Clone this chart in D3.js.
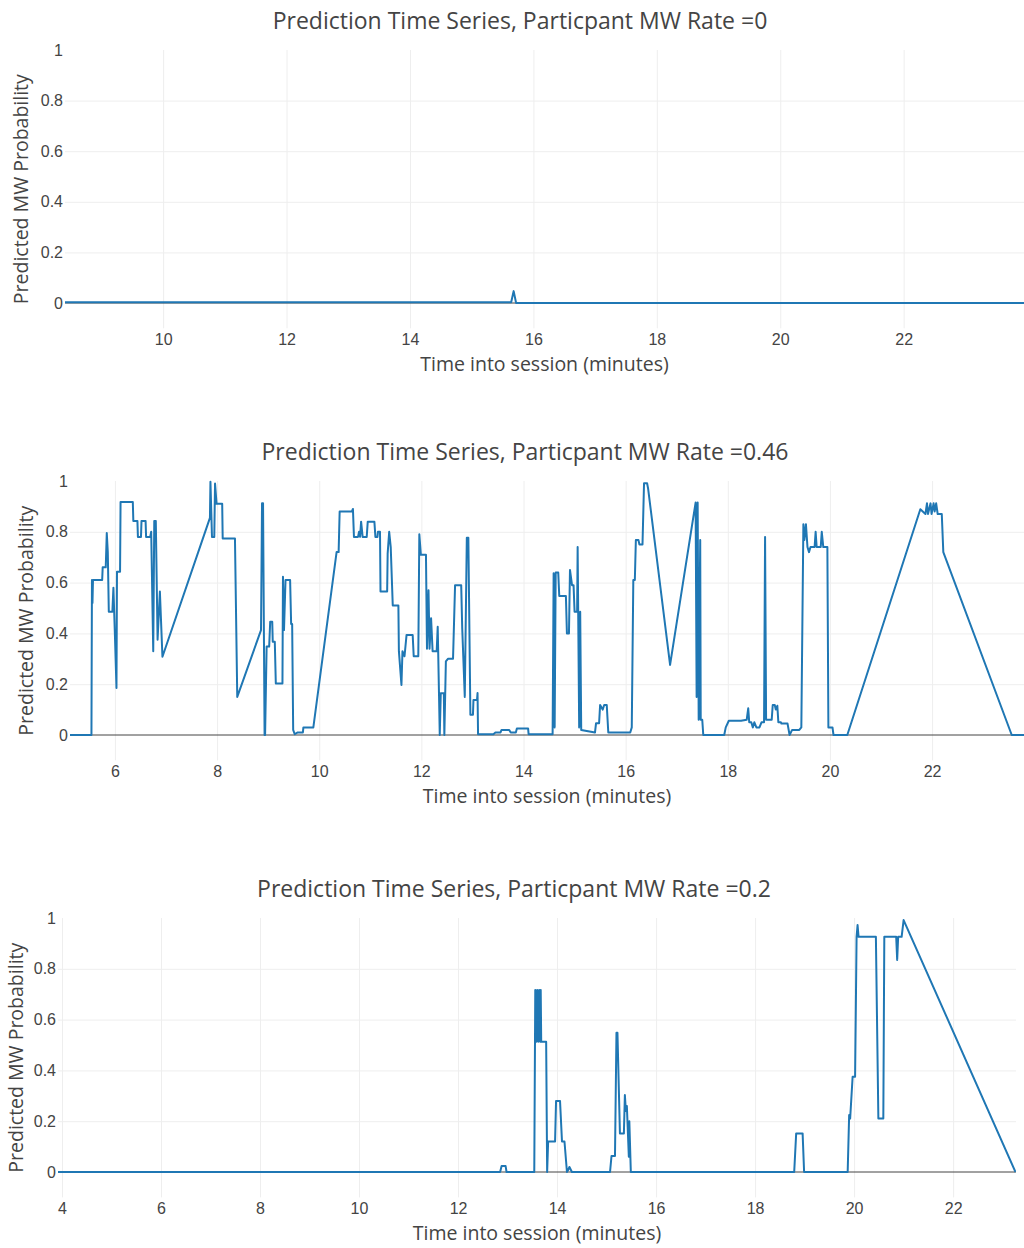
<!DOCTYPE html>
<html>
<head>
<meta charset="utf-8">
<script src="https://cdn.jsdelivr.net/npm/d3@7.9.0/dist/d3.min.js"></script>
<style>
  body { margin: 0; background: #fff; }
  svg { display: block; font-family: "Open Sans", sans-serif; }
  .tick text { fill: #444; font-size: 16px; }
  .grid line { stroke: #eee; }
  .grid .domain { display: none; }
</style>
</head>
<body>
<svg id="chart" width="1024" height="1248"></svg>
<script>
// participant MW rate = 0
const timeA = [8.41, 15.64, 15.68, 15.72, 23.95];
const probA = [0.003, 0.003, 0.047, 0, 0];

// participant MW rate = 0.46
const timeB = [5.12, 5.54, 5.55, 5.56, 5.57, 5.75, 5.76, 5.82, 5.84, 5.86, 5.88, 5.95, 5.97, 6.0, 6.03,
  6.04, 6.1, 6.11, 6.35, 6.36, 6.44, 6.45, 6.51, 6.52, 6.6, 6.61, 6.69, 6.71, 6.75, 6.77, 6.8, 6.835,
  6.88, 6.93, 7.86, 7.87, 7.9, 7.945, 7.96, 7.99, 8.1, 8.11, 8.35, 8.395, 8.86, 8.88, 8.9, 8.93, 8.94,
  8.97, 9.02, 9.04, 9.08, 9.09, 9.13, 9.15, 9.28, 9.29, 9.31, 9.34, 9.43, 9.45, 9.47, 9.49, 9.52, 9.58,
  9.68, 9.69, 9.885, 10.34, 10.38, 10.4, 10.64, 10.66, 10.68, 10.76, 10.78, 10.8, 10.82, 10.85, 10.93,
  10.95, 11.08, 11.1, 11.14, 11.15, 11.19, 11.2, 11.33, 11.34, 11.37, 11.4, 11.44, 11.55, 11.56, 11.61,
  11.63, 11.67, 11.71, 11.83, 11.85, 11.94, 11.96, 11.99, 12.09, 12.11, 12.14, 12.16, 12.19, 12.22,
  12.3, 12.32, 12.345, 12.36, 12.38, 12.44, 12.45, 12.48, 12.52, 12.62, 12.66, 12.78, 12.8, 12.85,
  12.89, 12.92, 12.96, 13.01, 13.02, 13.09, 13.1, 13.11, 13.41, 13.45, 13.55, 13.57, 13.72, 13.75,
  13.85, 13.87, 14.09, 14.1, 14.57, 14.59, 14.61, 14.63, 14.68, 14.7, 14.83, 14.85, 14.89, 14.91,
  14.95, 14.98, 15.0, 15.05, 15.06, 15.09, 15.11, 15.13, 15.4, 15.42, 15.48, 15.5, 15.55, 15.58,
  15.63, 15.66, 16.09, 16.12, 16.15, 16.18, 16.2, 16.25, 16.27, 16.33, 16.36, 16.42, 16.44, 16.87,
  17.37, 17.39, 17.41, 17.43, 17.46, 17.47, 17.5, 17.52, 17.93, 17.96, 18.02, 18.26, 18.37, 18.4,
  18.42, 18.46, 18.49, 18.52, 18.56, 18.62, 18.66, 18.71, 18.73, 18.75, 18.86, 18.88, 18.92, 18.94,
  18.97, 18.99, 19.04, 19.05, 19.17, 19.21, 19.26, 19.4, 19.44, 19.48, 19.5, 19.53, 19.56, 19.59,
  19.62, 19.7, 19.72, 19.74, 19.82, 19.84, 19.87, 19.95, 19.97, 20.05, 20.07, 20.34, 21.77, 21.87,
  21.9, 21.92, 21.97, 21.99, 22.03, 22.05, 22.08, 22.11, 22.19, 22.22, 23.56, 23.8];
const probB = [0, 0, 0.61, 0.52, 0.61, 0.61, 0.66, 0.66, 0.795, 0.72, 0.485, 0.485, 0.58, 0.39, 0.185,
  0.643, 0.643, 0.917, 0.917, 0.843, 0.843, 0.78, 0.78, 0.843, 0.843, 0.78, 0.78, 0.8, 0.33, 0.843, 0.843, 0.375,
  0.565, 0.308, 0.855, 0.997, 0.78, 0.78, 0.99, 0.91, 0.91, 0.774, 0.774, 0.15, 0.413, 0.912, 0.912, 0, 0,
  0.348, 0.348, 0.446, 0.446, 0.367, 0.367, 0.203, 0.203, 0.623, 0.413, 0.61, 0.61, 0.437, 0.437, 0.02, 0.003, 0.01,
  0.01, 0.03, 0.03, 0.72, 0.72, 0.88, 0.88, 0.89, 0.78, 0.78, 0.8, 0.78, 0.84, 0.78, 0.78,
  0.84, 0.84, 0.78, 0.78, 0.8, 0.8, 0.565, 0.565, 0.715, 0.8, 0.74, 0.51, 0.51, 0.33, 0.197,
  0.33, 0.31, 0.394, 0.394, 0.31, 0.31, 0.79, 0.71, 0.71, 0.34, 0.57, 0.34, 0.46, 0.33,
  0.33, 0.426, 0.164, 0, 0.164, 0.164, 0, 0.29, 0.3, 0.3, 0.59, 0.59, 0.42, 0.15,
  0.777, 0.777, 0.08, 0.08, 0.138, 0.138, 0.165, 0.003, 0.003, 0.01, 0.01, 0.02, 0.02, 0.01,
  0.01, 0.026, 0.026, 0.003, 0.003, 0.637, 0.03, 0.64, 0.64, 0.547, 0.547, 0.4, 0.4, 0.65,
  0.59, 0.59, 0.485, 0.485, 0.74, 0.03, 0.485, 0.02, 0.01, 0.046, 0.046, 0.118, 0.1, 0.118,
  0.118, 0.01, 0.01, 0.03, 0.61, 0.61, 0.768, 0.768, 0.75, 0.75, 0.991, 0.991, 0.97, 0.276,
  0.915, 0.15, 0.915, 0.06, 0.768, 0.06, 0.06, 0, 0, 0.03, 0.056, 0.056, 0.06, 0.105,
  0.05, 0.05, 0.03, 0.05, 0.03, 0.03, 0.05, 0.05, 0.78, 0.06, 0.06, 0.118, 0.118, 0.1,
  0.115, 0.05, 0.05, 0.045, 0.045, 0, 0.02, 0.02, 0.03, 0.83, 0.768, 0.83, 0.74, 0.72,
  0.74, 0.74, 0.8, 0.74, 0.74, 0.8, 0.74, 0.74, 0.03, 0.03, 0, 0, 0.889, 0.87,
  0.912, 0.87, 0.912, 0.87, 0.912, 0.88, 0.912, 0.87, 0.87, 0.72, 0, 0];

// participant MW rate = 0.2
const timeC = [3.92, 12.85, 12.88, 12.96, 12.98, 13.54, 13.56, 13.58, 13.6, 13.62, 13.64, 13.66, 13.67,
  13.68, 13.78, 13.8, 13.82, 13.96, 13.98, 14.06, 14.1, 14.15, 14.2, 14.23, 14.25, 14.3, 15.07, 15.1,
  15.17, 15.2, 15.22, 15.27, 15.35, 15.37, 15.39, 15.41, 15.45, 15.46, 15.49, 18.79, 18.83, 18.96,
  18.99, 19.87, 19.9, 19.92, 19.97, 20.02, 20.05, 20.07, 20.09, 20.44, 20.49, 20.59, 20.61, 20.85,
  20.87, 20.89, 20.96, 21.0, 23.26];
const probC = [0, 0, 0.024, 0.024, 0, 0, 0.717, 0.513, 0.717, 0.513, 0.717, 0.513, 0.717,
  0.513, 0.513, 0, 0.12, 0.12, 0.28, 0.28, 0.12, 0.12, 0, 0.01, 0.02, 0, 0, 0.063,
  0.063, 0.548, 0.548, 0.152, 0.152, 0.303, 0.24, 0.26, 0.06, 0.2, 0, 0, 0.152, 0.152,
  0, 0, 0.224, 0.21, 0.375, 0.375, 0.926, 0.972, 0.926, 0.926, 0.211, 0.211, 0.926, 0.926,
  0.835, 0.926, 0.926, 0.992, 0];

const yTicks = [0, 0.2, 0.4, 0.6, 0.8, 1];
const xTicksA = [10, 12, 14, 16, 18, 20, 22];
const xTicksB = [6, 8, 10, 12, 14, 16, 18, 20, 22];
const xTicksC = [4, 6, 8, 10, 12, 14, 16, 18, 20, 22];

const panels = [
  { title: "Prediction Time Series, Particpant MW Rate =0", t: timeA, p: probA, xTicks: xTicksA,
    xDomain: [8.41, 23.95], left: 65, right: 1024, top: 50, unit: 253, titleX: 520, yTitleX: 20 },
  { title: "Prediction Time Series, Particpant MW Rate =0.46", t: timeB, p: probB, xTicks: xTicksB,
    xDomain: [5.12, 23.8], left: 70, right: 1024, top: 481, unit: 254, titleX: 525, yTitleX: 25 },
  { title: "Prediction Time Series, Particpant MW Rate =0.2", t: timeC, p: probC, xTicks: xTicksC,
    xDomain: [3.92, 23.27], left: 58, right: 1016, top: 918, unit: 254, titleX: 514, yTitleX: 15 },
];

const svg = d3.select("#chart");

panels.forEach((cfg, i) => {
  const bottom = cfg.top + 1.1 * cfg.unit;
  const x = d3.scaleLinear().domain(cfg.xDomain).range([cfg.left, cfg.right]);
  const y = d3.scaleLinear().domain([-0.1, 1]).range([bottom, cfg.top]);
  const g = svg.append("g");

  // grid
  g.append("g")
    .attr("class", "grid")
    .attr("transform", `translate(0,${bottom})`)
    .call(d3.axisBottom(x).tickValues(cfg.xTicks).tickSize(-(bottom - cfg.top)).tickFormat(""));
  g.append("g")
    .attr("class", "grid")
    .attr("transform", `translate(${cfg.left},0)`)
    .call(d3.axisLeft(y).tickValues([0.2, 0.4, 0.6, 0.8]).tickSize(-(cfg.right - cfg.left)).tickFormat(""));

  // zero line
  g.append("line")
    .attr("x1", cfg.left).attr("x2", cfg.right)
    .attr("y1", y(0)).attr("y2", y(0))
    .attr("stroke", "#444").attr("stroke-width", 1);

  // tick labels
  const xAxis = g.append("g")
    .attr("transform", `translate(0,${bottom})`)
    .call(d3.axisBottom(x).tickValues(cfg.xTicks).tickSize(0).tickPadding(5).tickFormat(d3.format("d")));
  xAxis.select(".domain").remove();
  const yAxis = g.append("g")
    .attr("transform", `translate(${cfg.left - 2},0)`)
    .call(d3.axisLeft(y).tickValues(yTicks).tickSize(0).tickPadding(0).tickFormat((d) => String(d)));
  yAxis.select(".domain").remove();

  // series
  const clipId = "clip" + i;
  g.append("clipPath").attr("id", clipId)
    .append("rect")
    .attr("x", cfg.left).attr("y", cfg.top - 2)
    .attr("width", cfg.right - cfg.left).attr("height", bottom - cfg.top + 2);

  const line = d3.line()
    .x((d) => x(d[0]))
    .y((d) => y(d[1]));

  g.append("path")
    .datum(d3.zip(cfg.t, cfg.p))
    .attr("clip-path", `url(#${clipId})`)
    .attr("fill", "none")
    .attr("stroke", "#1f77b4")
    .attr("stroke-width", 2)
    .attr("stroke-linejoin", "round")
    .attr("d", line);

  // titles
  g.append("text")
    .attr("x", cfg.titleX).attr("y", cfg.top - 30)
    .attr("text-anchor", "middle").attr("dominant-baseline", "central")
    .attr("fill", "#444").attr("font-size", 23)
    .text(cfg.title);

  g.append("text")
    .attr("x", (cfg.left + cfg.right) / 2).attr("y", y(0) + 60)
    .attr("text-anchor", "middle").attr("dominant-baseline", "central")
    .attr("fill", "#444").attr("font-size", 19.5)
    .text("Time into session (minutes)");

  g.append("text")
    .attr("transform", `translate(${cfg.yTitleX},${(cfg.top + bottom) / 2}) rotate(-90)`)
    .attr("text-anchor", "middle").attr("dominant-baseline", "central")
    .attr("fill", "#444").attr("font-size", 19.5)
    .text("Predicted MW Probability");
});
</script>
</body>
</html>
